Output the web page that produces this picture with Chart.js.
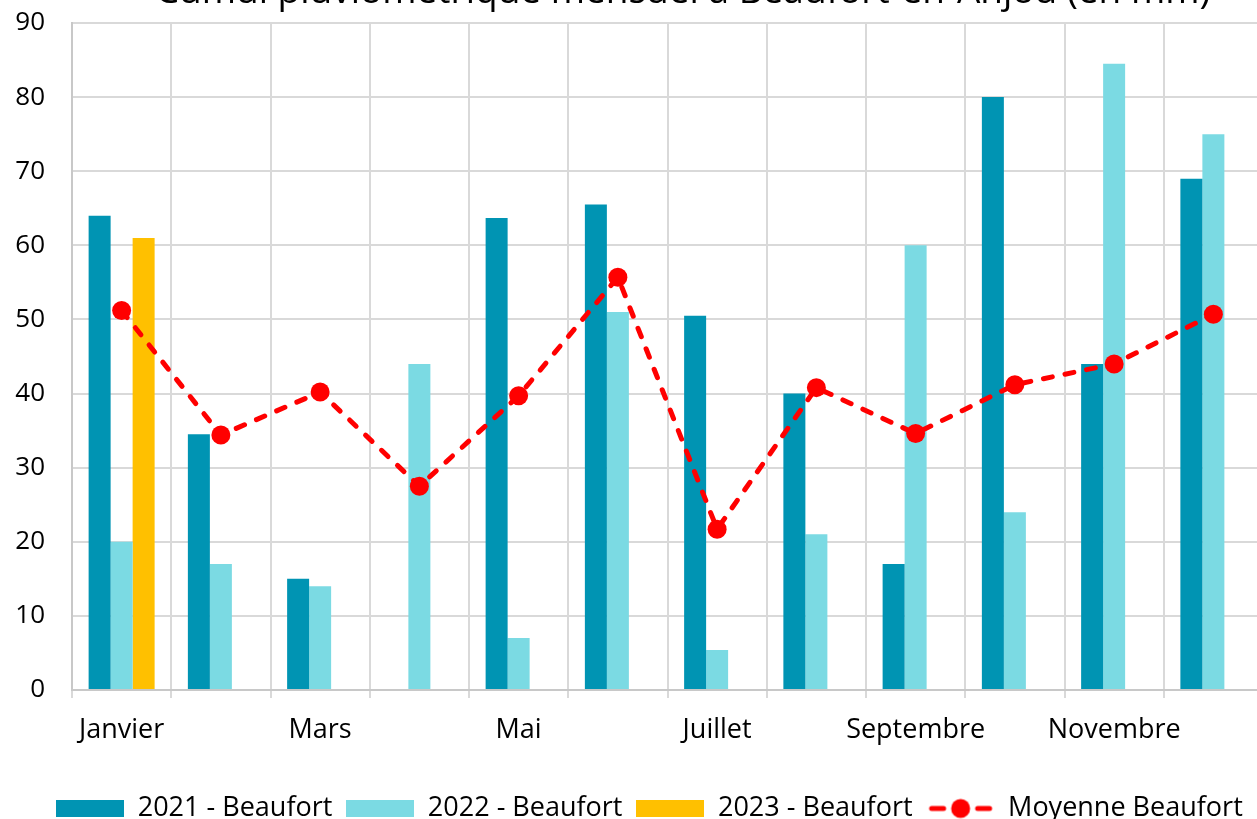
<!DOCTYPE html>
<html>
<head>
<meta charset="utf-8">
<script src="https://cdn.jsdelivr.net/npm/chart.js@4.4.1/dist/chart.umd.min.js"></script>
<style>
  html, body { margin: 0; padding: 0; background: #fff; overflow: hidden; }
  #wrap { width: 1257px; height: 819px; overflow: hidden; }
</style>
</head>
<body>
<div id="wrap"><canvas id="chart-pluie" width="1263" height="832"></canvas></div>
<script>
// Données (mm)
const mois = ['Janvier', 'Février', 'Mars', 'Avril', 'Mai', 'Juin', 'Juillet', 'Août', 'Septembre', 'Octobre', 'Novembre', 'Décembre'];
const pluie2021 = [64, 34.5, 15, null, 63.7, 65.5, 50.5, 40, 17, 80, 44, 69];
const pluie2022 = [20, 17, 14, 44, 7, 51, 5.4, 21, 60, 24, 84.5, 75];
const pluie2023 = [61, null, null, null, null, null, null, null, null, null, null, null];
const moyenne = [51.2, 34.4, 40.2, 27.5, 39.7, 55.7, 21.7, 40.8, 34.6, 41.2, 44, 50.7];
const yTicks = [0, 10, 20, 30, 40, 50, 60, 70, 80, 90];

const titre = 'Cumul pluviométrique mensuel à Beaufort-en-Anjou (en mm)';
const police = '"Open Sans", sans-serif';

// Symboles de légende
function boite(couleur) {
    const c = document.createElement('canvas');
    c.width = 68; c.height = 17;
    const g = c.getContext('2d');
    g.fillStyle = couleur;
    g.fillRect(0, 0, 68, 17);
    return c;
}
function symboleLigne() {
    const c = document.createElement('canvas');
    c.width = 68; c.height = 22;
    const g = c.getContext('2d');
    g.strokeStyle = '#ff0000';
    g.lineWidth = 5;
    g.lineCap = 'round';
    g.beginPath();
    g.moveTo(5, 11); g.lineTo(17, 11);
    g.moveTo(51, 11); g.lineTo(63, 11);
    g.stroke();
    g.fillStyle = '#ff0000';
    g.beginPath();
    g.arc(34, 11, 9.5, 0, Math.PI * 2);
    g.fill();
    return c;
}
const symboles = [boite('#0094b3'), boite('#7bdae3'), boite('#ffc000'), symboleLigne()];

// Titre (coupé en haut comme sur l'original)
const titrePlugin = {
    id: 'titre',
    afterDraw(chart) {
        const ctx = chart.ctx;
        ctx.save();
        ctx.font = '37px ' + police;
        ctx.fillStyle = '#000';
        ctx.textAlign = 'center';
        ctx.textBaseline = 'alphabetic';
        ctx.fillText(titre, 683, 3);
        ctx.restore();
    }
};

// Légende un peu décalée vers la droite
const legendeDecalee = {
    id: 'legendeDecalee',
    afterLayout(chart) {
        chart.legend.left += 12;
        chart.legend.right += 12;
    }
};

const ctx = document.getElementById('chart-pluie').getContext('2d');
new Chart(ctx, {
    type: 'bar',
    data: {
        labels: mois,
        datasets: [{
            label: '2021 - Beaufort',
            data: pluie2021,
            backgroundColor: '#0094b3',
            order: 1
        }, {
            label: '2022 - Beaufort',
            data: pluie2022,
            backgroundColor: '#7bdae3',
            order: 1
        }, {
            label: '2023 - Beaufort',
            data: pluie2023,
            backgroundColor: '#ffc000',
            order: 1
        }, {
            type: 'line',
            label: 'Moyenne Beaufort',
            data: moyenne,
            borderColor: '#ff0000',
            borderWidth: 5,
            borderDash: [9, 13],
            borderCapStyle: 'round',
            pointRadius: 9.5,
            pointBackgroundColor: '#ff0000',
            pointBorderColor: '#ff0000',
            pointBorderWidth: 0,
            tension: 0,
            order: 0
        }]
    },
    options: {
        responsive: false,
        animation: false,
        layout: { autoPadding: false, padding: { top: 23, left: 12, right: 0, bottom: 0 } },
        datasets: {
            bar: { categoryPercentage: 0.665, barPercentage: 1 }
        },
        scales: {
            x: {
                afterFit(scale) {
                    scale.height = 91;
                    scale.paddingLeft = 0;
                    scale.paddingRight = 0;
                },
                grid: { color: '#d9d9d9', lineWidth: 2, tickLength: 8, offset: true },
                border: { color: '#c8c8c8', width: 2 },
                ticks: {
                    color: '#000',
                    font: { family: police, size: 27 },
                    padding: 16,
                    autoSkip: false,
                    maxRotation: 0,
                    callback: function(value, index) {
                        return index % 2 === 0 ? mois[index] : '';
                    }
                }
            },
            y: {
                min: 0,
                max: 90,
                afterFit(scale) {
                    scale.width = 60;
                    scale.paddingTop = 0;
                    scale.paddingBottom = 0;
                },
                afterBuildTicks(scale) { scale.ticks = yTicks.map(v => ({ value: v })); },
                grid: { color: '#d9d9d9', lineWidth: 2, drawTicks: false },
                border: { color: '#c8c8c8', width: 2 },
                ticks: {
                    color: '#000',
                    font: { family: police, size: 26 },
                    padding: 27
                }
            }
        },
        plugins: {
            title: { display: false },
            tooltip: { enabled: false },
            legend: {
                position: 'bottom',
                labels: {
                    color: '#000',
                    font: { family: police, size: 27 },
                    usePointStyle: true,
                    pointStyleWidth: 68,
                    padding: 14,
                    generateLabels: function(chart) {
                        return chart.data.datasets.map((ds, i) => ({
                            text: ds.label,
                            pointStyle: symboles[i],
                            datasetIndex: i,
                            hidden: false,
                            fontColor: '#000',
                            lineWidth: 0
                        }));
                    }
                }
            }
        }
    },
    plugins: [titrePlugin, legendeDecalee]
});
</script>
</body>
</html>
